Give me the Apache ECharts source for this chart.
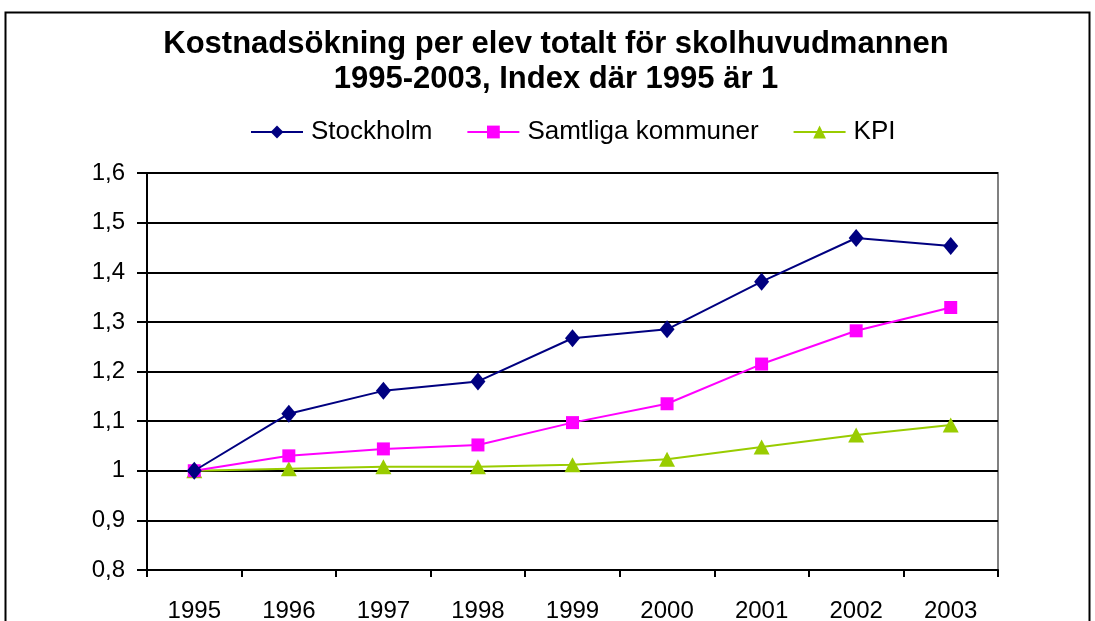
<!DOCTYPE html>
<html>
<head>
<meta charset="utf-8">
<script src="https://cdn.jsdelivr.net/npm/echarts@6/dist/echarts.min.js"></script>
<style>
  html, body { margin: 0; padding: 0; background: #fff; }
  #chart { width: 1095px; height: 621px; }
</style>
</head>
<body>
<div id="chart"></div>
<script>
// data
const years = ['1995', '1996', '1997', '1998', '1999', '2000', '2001', '2002', '2003'];
const stockholm = [1.0, 1.115, 1.161, 1.180, 1.267, 1.285, 1.381, 1.469, 1.453];
const samtliga = [1.0, 1.030, 1.044, 1.052, 1.097, 1.135, 1.215, 1.282, 1.329];
const kpi = [1.0, 1.004, 1.008, 1.008, 1.012, 1.023, 1.048, 1.072, 1.092];
const yTicks = [0.8, 0.9, 1.0, 1.1, 1.2, 1.3, 1.4, 1.5, 1.6];

const font = 'Liberation Sans, Arial, sans-serif';

let myChart = echarts.init(document.getElementById('chart'));

function fmt (v) {
  // swedish decimal comma, 1 stays "1"
  let s = Math.round(v * 10) / 10;
  return String(s).replace('.', ',');
}

myChart.setOption({
  backgroundColor: '#fff',
  animation: false,
  graphic: [
    {
      type: 'rect',
      shape: { x: 5.5, y: 12.5, width: 1084, height: 640 },
      style: { fill: 'none', stroke: '#000', lineWidth: 2 },
      silent: true
    }
  ],
  title: {
    text: 'Kostnadsökning per elev totalt för skolhuvudmannen\n1995-2003, Index där 1995 är 1',
    left: 551,
    top: 22,
    textAlign: 'center',
    textStyle: {
      fontFamily: font,
      fontWeight: 'bold',
      fontSize: 31,
      lineHeight: 35,
      color: '#000'
    }
  },
  legend: {
    top: 114,
    left: 245,
    itemWidth: 52,
    itemHeight: 16,
    itemGap: 34,
    textStyle: { fontFamily: font, fontSize: 26, color: '#000', padding: [0, 0, 0, 3] },
    data: ['Stockholm', 'Samtliga kommuner', 'KPI']
  },
  grid: {
    left: 147,
    right: 97,
    top: 173,
    bottom: 51,
    outerBoundsMode: 'none',
    containLabel: false,
    show: true,
    borderColor: '#808080',
    borderWidth: 2,
    backgroundColor: '#fff'
  },
  xAxis: {
    type: 'category',
    data: years,
    boundaryGap: true,
    axisLine: { lineStyle: { color: '#000', width: 2 } },
    axisTick: { show: true, length: 7, lineStyle: { color: '#000', width: 2 } },
    axisLabel: { fontFamily: font, fontSize: 24, color: '#000', margin: 29 },
    splitLine: { show: false }
  },
  yAxis: {
    type: 'value',
    min: yTicks[0],
    max: yTicks[yTicks.length - 1],
    interval: 0.1,
    axisLine: { show: true, lineStyle: { color: '#000', width: 2 } },
    axisTick: { show: true, length: 10, lineStyle: { color: '#000', width: 2 } },
    axisLabel: { fontFamily: font, fontSize: 24, color: '#000', margin: 22, formatter: fmt },
    splitLine: { show: true, lineStyle: { color: '#000', width: 2 } }
  },
  series: [
    {
      name: 'Stockholm',
      type: 'line',
      data: stockholm,
      symbol: 'diamond',
      symbolSize: [15, 18],
      itemStyle: { color: '#000080' },
      lineStyle: { color: '#000080', width: 2 },
      z: 4
    },
    {
      name: 'Samtliga kommuner',
      type: 'line',
      data: samtliga,
      symbol: 'rect',
      symbolSize: 13,
      itemStyle: { color: '#FF00FF' },
      lineStyle: { color: '#FF00FF', width: 2 },
      z: 3
    },
    {
      name: 'KPI',
      type: 'line',
      data: kpi,
      symbol: 'triangle',
      symbolSize: [16, 15],
      itemStyle: { color: '#99CC00' },
      lineStyle: { color: '#99CC00', width: 2 },
      z: 2
    }
  ]
});
</script>
</body>
</html>
